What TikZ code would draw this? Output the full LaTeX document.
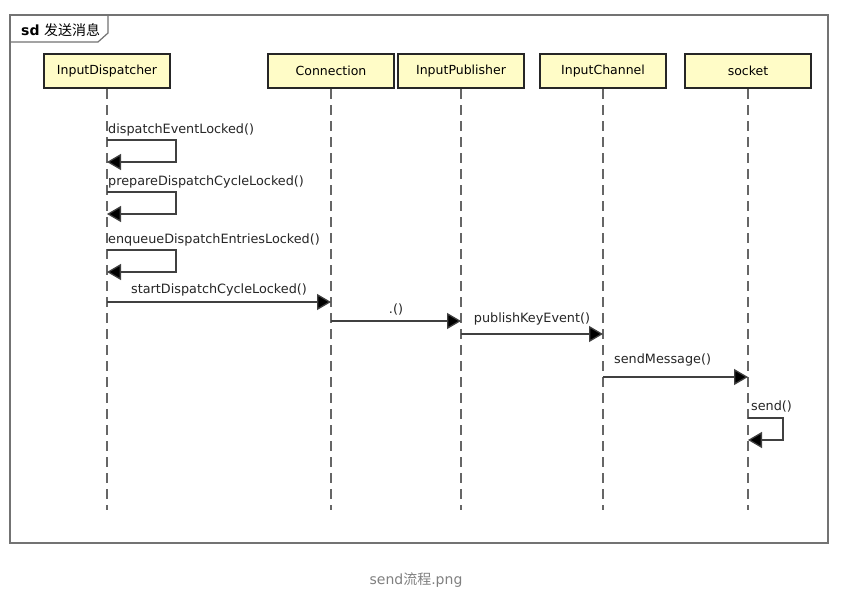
\documentclass[tikz,border=0pt]{standalone}
\usepackage{fontspec}
\setmainfont{DejaVu Sans}
\newfontfamily\cjk{Noto Sans CJK SC}
\usetikzlibrary{arrows.meta}
\begin{document}
\begin{tikzpicture}[x=1pt,y=-1pt,
  font=\fontsize{12.8}{14}\selectfont,
  actor/.style={draw=black!85,line width=2pt,fill=yellow!22!white,minimum width=126pt,minimum height=34pt,inner sep=0pt,anchor=north},
  life/.style={draw=black!60,line width=1.2pt,dash pattern=on 10pt off 6pt},
  msg/.style={draw=black!75,line width=1.3pt,-{Triangle[length=14pt,width=16pt,fill=black]}},
  lbl/.style={inner sep=0pt,text=black!85}]
\useasboundingbox (0,0) rectangle (862,602);
\fill[white] (0,0) rectangle (862,602);
% frame
\draw[black!55,line width=1.4pt] (10,15) rectangle (828,543);
\draw[black!55,line width=1.2pt] (10,42) -- (98,42) -- (108,33) -- (108,15);
\node[anchor=west,inner sep=0pt,font=\fontsize{14}{16}\selectfont] (title) at (21,30) {\textbf{sd} {\cjk 发送消息}};
% actors
\node[actor,font=\fontsize{12.5}{14}\selectfont] (d) at (107,53) {InputDispatcher};
\node[actor,font=\fontsize{12.5}{14}\selectfont] (c) at (331,53) {Connection};
\node[actor,font=\fontsize{12.5}{14}\selectfont] (p) at (461,53) {InputPublisher};
\node[actor,font=\fontsize{12.5}{14}\selectfont] (ch) at (603,53) {InputChannel};
\node[actor,font=\fontsize{12.5}{14}\selectfont] (s) at (748,53) {socket};
\foreach \n in {d,c,p,ch,s}{
  \coordinate (\n end) at (\n.south |- 0,510);
  \draw[life] (\n.south) -- (\n end);
}
% self messages on dispatcher
\foreach \i/\y/\t in {1/140/dispatchEventLocked(),2/192/prepareDispatchCycleLocked(),3/250/enqueueDispatchEntriesLocked()}{
  \coordinate (a\i) at (d.south |- 0,\y);
  \coordinate (b\i) at (d.south |- 0,\y+22);
  \node[lbl,anchor=south west] (l\i) at ([xshift=1pt,yshift=4pt]a\i) {\t};
  \draw[msg] (a\i) -- ++(69,0) |- (b\i);
}
% messages
\coordinate (m1s) at (d.south |- 0,302); \coordinate (m1e) at (c.south |- 0,302);
\draw[msg] (m1s) -- node[lbl,above=5pt] (t1) {startDispatchCycleLocked()} (m1e);
\coordinate (m2s) at (c.south |- 0,321); \coordinate (m2e) at (p.south |- 0,321);
\draw[msg] (m2s) -- node[lbl,above=5pt] (t2) {.()} (m2e);
\coordinate (m3s) at (p.south |- 0,334); \coordinate (m3e) at (ch.south |- 0,334);
\draw[msg] (m3s) -- node[lbl,above=8pt] (t3) {publishKeyEvent()} (m3e);
\coordinate (m4s) at (ch.south |- 0,377); \coordinate (m4e) at (s.south |- 0,377);
\node[lbl,anchor=south west] (t4) at (614,366) {sendMessage()};
\draw[msg] (m4s) -- (m4e);
% self on socket
\coordinate (a4) at (s.south |- 0,418);
\coordinate (b4) at (s.south |- 0,440);
\node[lbl,anchor=south west] (l4) at ([xshift=3pt,yshift=6pt]a4) {send()};
\draw[msg] (a4) -- ++(35,0) |- (b4);
% caption
\node[text=black!50,font=\fontsize{14}{16}\selectfont] (cap) at (416,580) {send{\cjk 流程}.png};
\end{tikzpicture}
\end{document}
